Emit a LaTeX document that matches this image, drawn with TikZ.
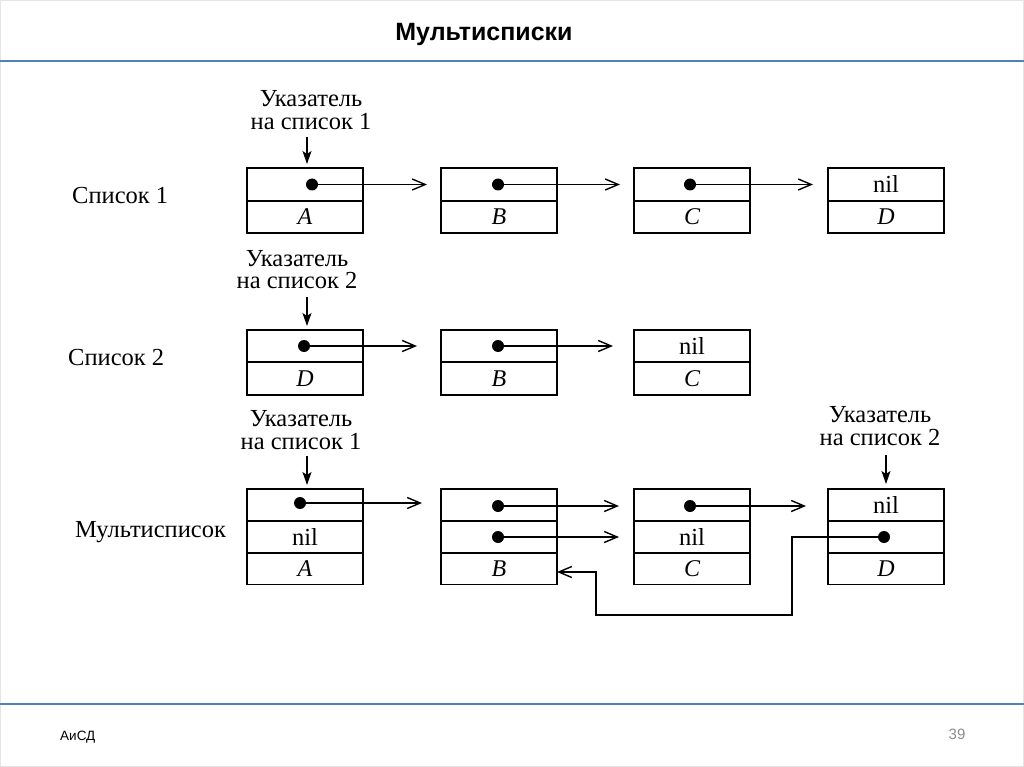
\documentclass[tikz,border=0pt]{standalone}
\usepackage{fontspec}
\setmainfont{Liberation Serif}
\newfontfamily\headfont{Liberation Sans}
\usetikzlibrary{arrows.meta}
\definecolor{rule}{RGB}{79,129,189}
\begin{document}
\begin{tikzpicture}[x=1pt,y=-1pt,
  cell/.style={draw,line width=1.7pt,minimum width=116pt,inner sep=0pt,outer sep=0pt},
  c2/.style={cell,minimum height=32.5pt},
  c3/.style={cell,minimum height=31.7pt},
  dot/.style={circle,fill,inner sep=0pt,minimum size=12pt},
  arr/.style={line width=1.4pt,-{Straight Barb[length=13pt,width=11pt,line width=1.4pt]}},
  ptr/.style={line width=1.6pt,-{Stealth[length=13pt,width=9pt,inset=3pt]}},
  lab/.style={font=\fontsize{24.5}{22.8}\selectfont,align=center,inner sep=0pt},
  let/.style={font=\fontsize{24}{26}\selectfont\itshape,inner sep=0pt},
  txt/.style={font=\fontsize{24.5}{26}\selectfont,inner sep=0pt}]
\useasboundingbox (0,0) rectangle (1024,767);
\draw[black!10,line width=1pt] (0.5,0.5) rectangle (1023.5,766.5);
\draw[rule,line width=2.2pt] (0,61) -- (1024,61);
\draw[rule,line width=2.2pt] (0,704) -- (1024,704);
\node[font=\headfont\bfseries\fontsize{25}{28}\selectfont,inner sep=0pt] (title) at (484,34) {Мультисписки};
\node[font=\headfont\fontsize{13.5}{16}\selectfont,anchor=west,inner sep=0pt] (foot) at (60,737) {АиСД};
\node[font=\headfont\fontsize{15}{17}\selectfont,text=black!45,inner sep=0pt] (page) at (957,734) {39};

% ---- List 1 ----
\node[txt,anchor=west] (l1) at (72,196) {Список 1};
\node[lab] (u1) at (311,110.5) {Указатель\\на список 1};
\foreach \n/\x/\l in {a/305/A,b/499/B,c/692/C,d/886/D}{
  \node[c2] (\n1t) at (\x,184.5) {};
  \node[c2] (\n1b) at (\x,217) {};
  \node[let] at (\n1b) {\l};
}
\node[txt] (nil1) at (d1t) {nil};
\node[dot] (pa1) at (312,184.5) {};
\node[dot] (pb1) at (498,184.5) {};
\node[dot] (pc1) at (690,184.5) {};
\coordinate (ea1) at (427,184.5);
\coordinate (eb1) at (620,184.5);
\coordinate (ec1) at (813,184.5);
\draw[arr] (pa1.center) -- (ea1);
\draw[arr] (pb1.center) -- (eb1);
\draw[arr] (pc1.center) -- (ec1);
\coordinate (s1) at (307,137);
\draw[ptr] (s1) -- (307,164);

% ---- List 2 ----
\node[txt,anchor=west] (l2) at (68,358) {Список 2};
\node[lab] (u2) at (297,269.5) {Указатель\\на список 2};
\foreach \n/\x/\l in {d/305/D,b/499/B,c/692/C}{
  \node[c2] (\n2t) at (\x,346) {};
  \node[c2] (\n2b) at (\x,378.5) {};
  \node[let] at (\n2b) {\l};
}
\node[txt] (nil2) at (c2t) {nil};
\node[dot] (pd2) at (304,346) {};
\node[dot] (pb2) at (498,346) {};
\coordinate (ed2) at (417,346);
\coordinate (eb2) at (613,346);
\draw[arr] (pd2.center) -- (ed2);
\draw[arr] (pb2.center) -- (eb2);
\coordinate (s2) at (307,297);
\draw[ptr] (s2) -- (307,326);

% ---- Multilist ----
\node[txt,anchor=west] (l3) at (75,532) {Мультисписок};
\node[lab] (u3) at (301,430) {Указатель\\на список 1};
\node[lab] (u4) at (880,426) {Указатель\\на список 2};
\foreach \n/\x/\l in {a/305/A,b/499/B,c/692/C,d/886/D}{
  \node[c3] (\n3t) at (\x,505) {};
  \node[c3] (\n3m) at (\x,537) {};
  \node[c3] (\n3b) at (\x,568.5) {};
  \node[let] at (\n3b) {\l};
}
\node[txt] (nila) at (a3m) {nil};
\node[txt] (nilc) at (c3m) {nil};
\node[txt] (nild) at (d3t) {nil};
\node[dot] (pa3) at (300,503) {};
\node[dot] (pb3) at (498,506) {};
\node[dot] (pb4) at (498,537) {};
\node[dot] (pc3) at (690,506) {};
\node[dot] (pd3) at (884,537) {};
\coordinate (ea3) at (422,503);
\coordinate (eb3) at (619,506);
\coordinate (eb4) at (619,537);
\coordinate (ec3) at (806,506);
\draw[arr] (pa3.center) -- (ea3);
\draw[arr] (pb3.center) -- (eb3);
\draw[arr] (pb4.center) -- (eb4);
\draw[arr] (pc3.center) -- (ec3);
\draw[arr] (pd3.center) -- (792,537) -- (792,615) -- (596,615) -- (596,572) -- (b3b.east |- 0,572);
\coordinate (s3) at (307,456);
\draw[ptr] (s3) -- (307,485);
\coordinate (s4) at (886,455);
\draw[ptr] (s4) -- (886,484);
\end{tikzpicture}
\end{document}
